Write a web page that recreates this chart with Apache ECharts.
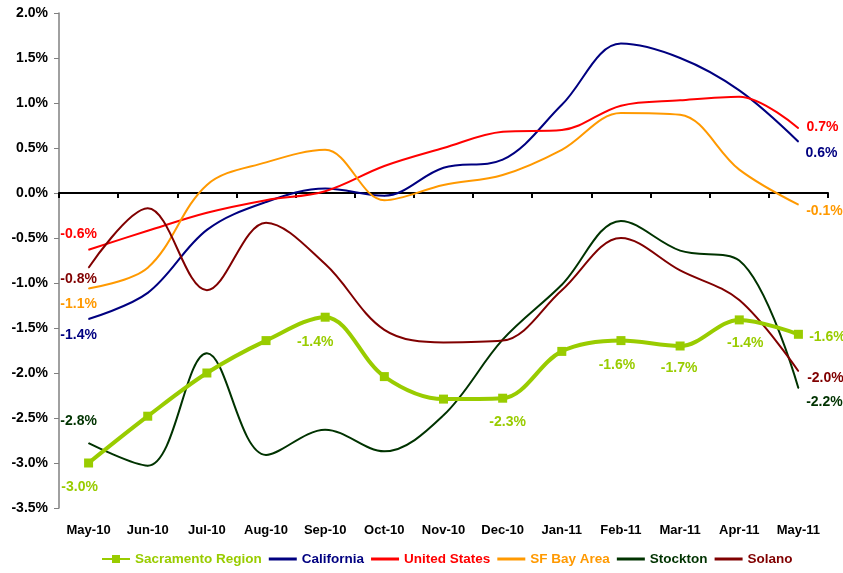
<!DOCTYPE html>
<html>
<head>
<meta charset="utf-8">
<script src="https://cdn.jsdelivr.net/npm/echarts@6/dist/echarts.min.js"></script>
<style>
html, body { margin: 0; padding: 0; background: #fff; }
#main { width: 843px; height: 573px; }
</style>
</head>
<body>
<div id="main"></div>
<script>
var months = ['May-10','Jun-10','Jul-10','Aug-10','Sep-10','Oct-10','Nov-10','Dec-10','Jan-11','Feb-11','Mar-11','Apr-11','May-11'];

var sacramento = [-3.00, -2.48, -2.00, -1.64, -1.38, -2.04, -2.29, -2.28, -1.76, -1.64, -1.70, -1.41, -1.57];
var california = [-1.40, -1.11, -0.41, -0.10, 0.05, -0.03, 0.28, 0.37, 0.98, 1.66, 1.50, 1.14, 0.57];
var unitedStates = [-0.63, -0.42, -0.22, -0.08, 0.02, 0.30, 0.50, 0.68, 0.70, 0.97, 1.03, 1.07, 0.72];
var sfBayArea = [-1.06, -0.83, 0.09, 0.34, 0.48, -0.08, 0.09, 0.20, 0.48, 0.89, 0.87, 0.26, -0.13];
var stockton = [-2.78, -3.03, -1.78, -2.91, -2.63, -2.87, -2.47, -1.63, -1.02, -0.31, -0.64, -0.75, -2.17];
var solano = [-0.83, -0.17, -1.08, -0.33, -0.79, -1.52, -1.66, -1.64, -1.08, -0.50, -0.86, -1.19, -1.98];

var font = '"Liberation Sans", Arial, sans-serif';
var myChart = echarts.init(document.getElementById('main'));

function pct(v) { return v.toFixed(1) + '%'; }

// build data items, labelling only the points given in offsets
function withLabels(values, color, offsets) {
    return values.map(function (v, i) {
        var item = { value: v };
        if (offsets[i]) {
            item.label = {
                show: true,
                position: 'inside',
                offset: offsets[i],
                color: color,
                fontFamily: font,
                fontWeight: 'bold',
                fontSize: 14,
                formatter: function (p) { return pct(p.value); }
            };
        }
        return item;
    });
}

function line(name, values, color, width, offsets) {
    return {
        name: name,
        type: 'line',
        xAxisIndex: 0,
        smooth: 0.35,
        symbol: 'circle',
        symbolSize: 1,
        showSymbol: true,
        lineStyle: { color: color, width: width },
        itemStyle: { color: color },
        data: withLabels(values, color, offsets),
        z: 3
    };
}

var colors = {
    sac: '#99CC00', ca: '#000080', us: '#FF0000', sf: '#FF9900', st: '#003300', so: '#800000'
};

var sacSeries = line('Sacramento Region', sacramento, colors.sac, 4, {
    0: [-9, 24], 4: [-10, 25], 7: [5, 24], 9: [-4, 25], 10: [-1, 22], 11: [6, 23], 12: [29, 3]
});
sacSeries.symbol = 'rect';
sacSeries.symbolSize = 9;
sacSeries.z = 4;

var lineIcon = 'path://M0,0 L28,0 L28,3 L0,3 Z';

option = {
    animation: false,
    backgroundColor: '#fff',
    grid: { left: 59, right: 15, top: 13, bottom: 65, containLabel: false },
    legend: {
        bottom: 2,
        left: 96,
        itemWidth: 28,
        itemHeight: 10,
        itemGap: 7,
        textStyle: { fontFamily: font, fontWeight: 'bold', fontSize: 13.5 },
        data: [
            { name: 'Sacramento Region', textStyle: { color: colors.sac } },
            { name: 'California', icon: lineIcon, textStyle: { color: colors.ca } },
            { name: 'United States', icon: lineIcon, textStyle: { color: colors.us } },
            { name: 'SF Bay Area', icon: lineIcon, textStyle: { color: colors.sf } },
            { name: 'Stockton', icon: lineIcon, textStyle: { color: colors.st } },
            { name: 'Solano', icon: lineIcon, textStyle: { color: colors.so } }
        ]
    },
    xAxis: [{
        type: 'category',
        data: months,
        boundaryGap: true,
        axisLine: { onZero: true, lineStyle: { color: '#000', width: 2 } },
        axisTick: { show: true, length: 5, lineStyle: { color: '#000', width: 2 } },
        axisLabel: { show: false },
        z: 2
    }, {
        type: 'category',
        data: months,
        position: 'bottom',
        boundaryGap: true,
        axisLine: { show: false, onZero: false },
        axisTick: { show: false },
        axisLabel: { margin: 16, color: '#000', fontFamily: font, fontWeight: 'bold', fontSize: 13 }
    }],
    yAxis: {
        type: 'value',
        min: -3.5,
        max: 2.0,
        interval: 0.5,
        axisLine: { show: true, lineStyle: { color: '#808080', width: 1.5 } },
        axisTick: { show: true, length: 5, lineStyle: { color: '#808080' } },
        splitLine: { show: false },
        axisLabel: {
            margin: 11, color: '#000', fontFamily: font, fontWeight: 'bold', fontSize: 14,
            formatter: function (v) { return pct(v); }
        }
    },
    series: [
        sacSeries,
        line('California', california, colors.ca, 2, { 0: [-10, 16], 12: [23, 11] }),
        line('United States', unitedStates, colors.us, 2, { 0: [-10, -16], 12: [24, -1] }),
        line('SF Bay Area', sfBayArea, colors.sf, 2, { 0: [-10, 16], 12: [26, 6] }),
        line('Stockton', stockton, colors.st, 2, { 0: [-10, -22], 12: [26, 14] }),
        line('Solano', solano, colors.so, 2, { 0: [-10, 11], 12: [27, 7] })
    ]
};

myChart.setOption(option);
</script>
</body>
</html>
